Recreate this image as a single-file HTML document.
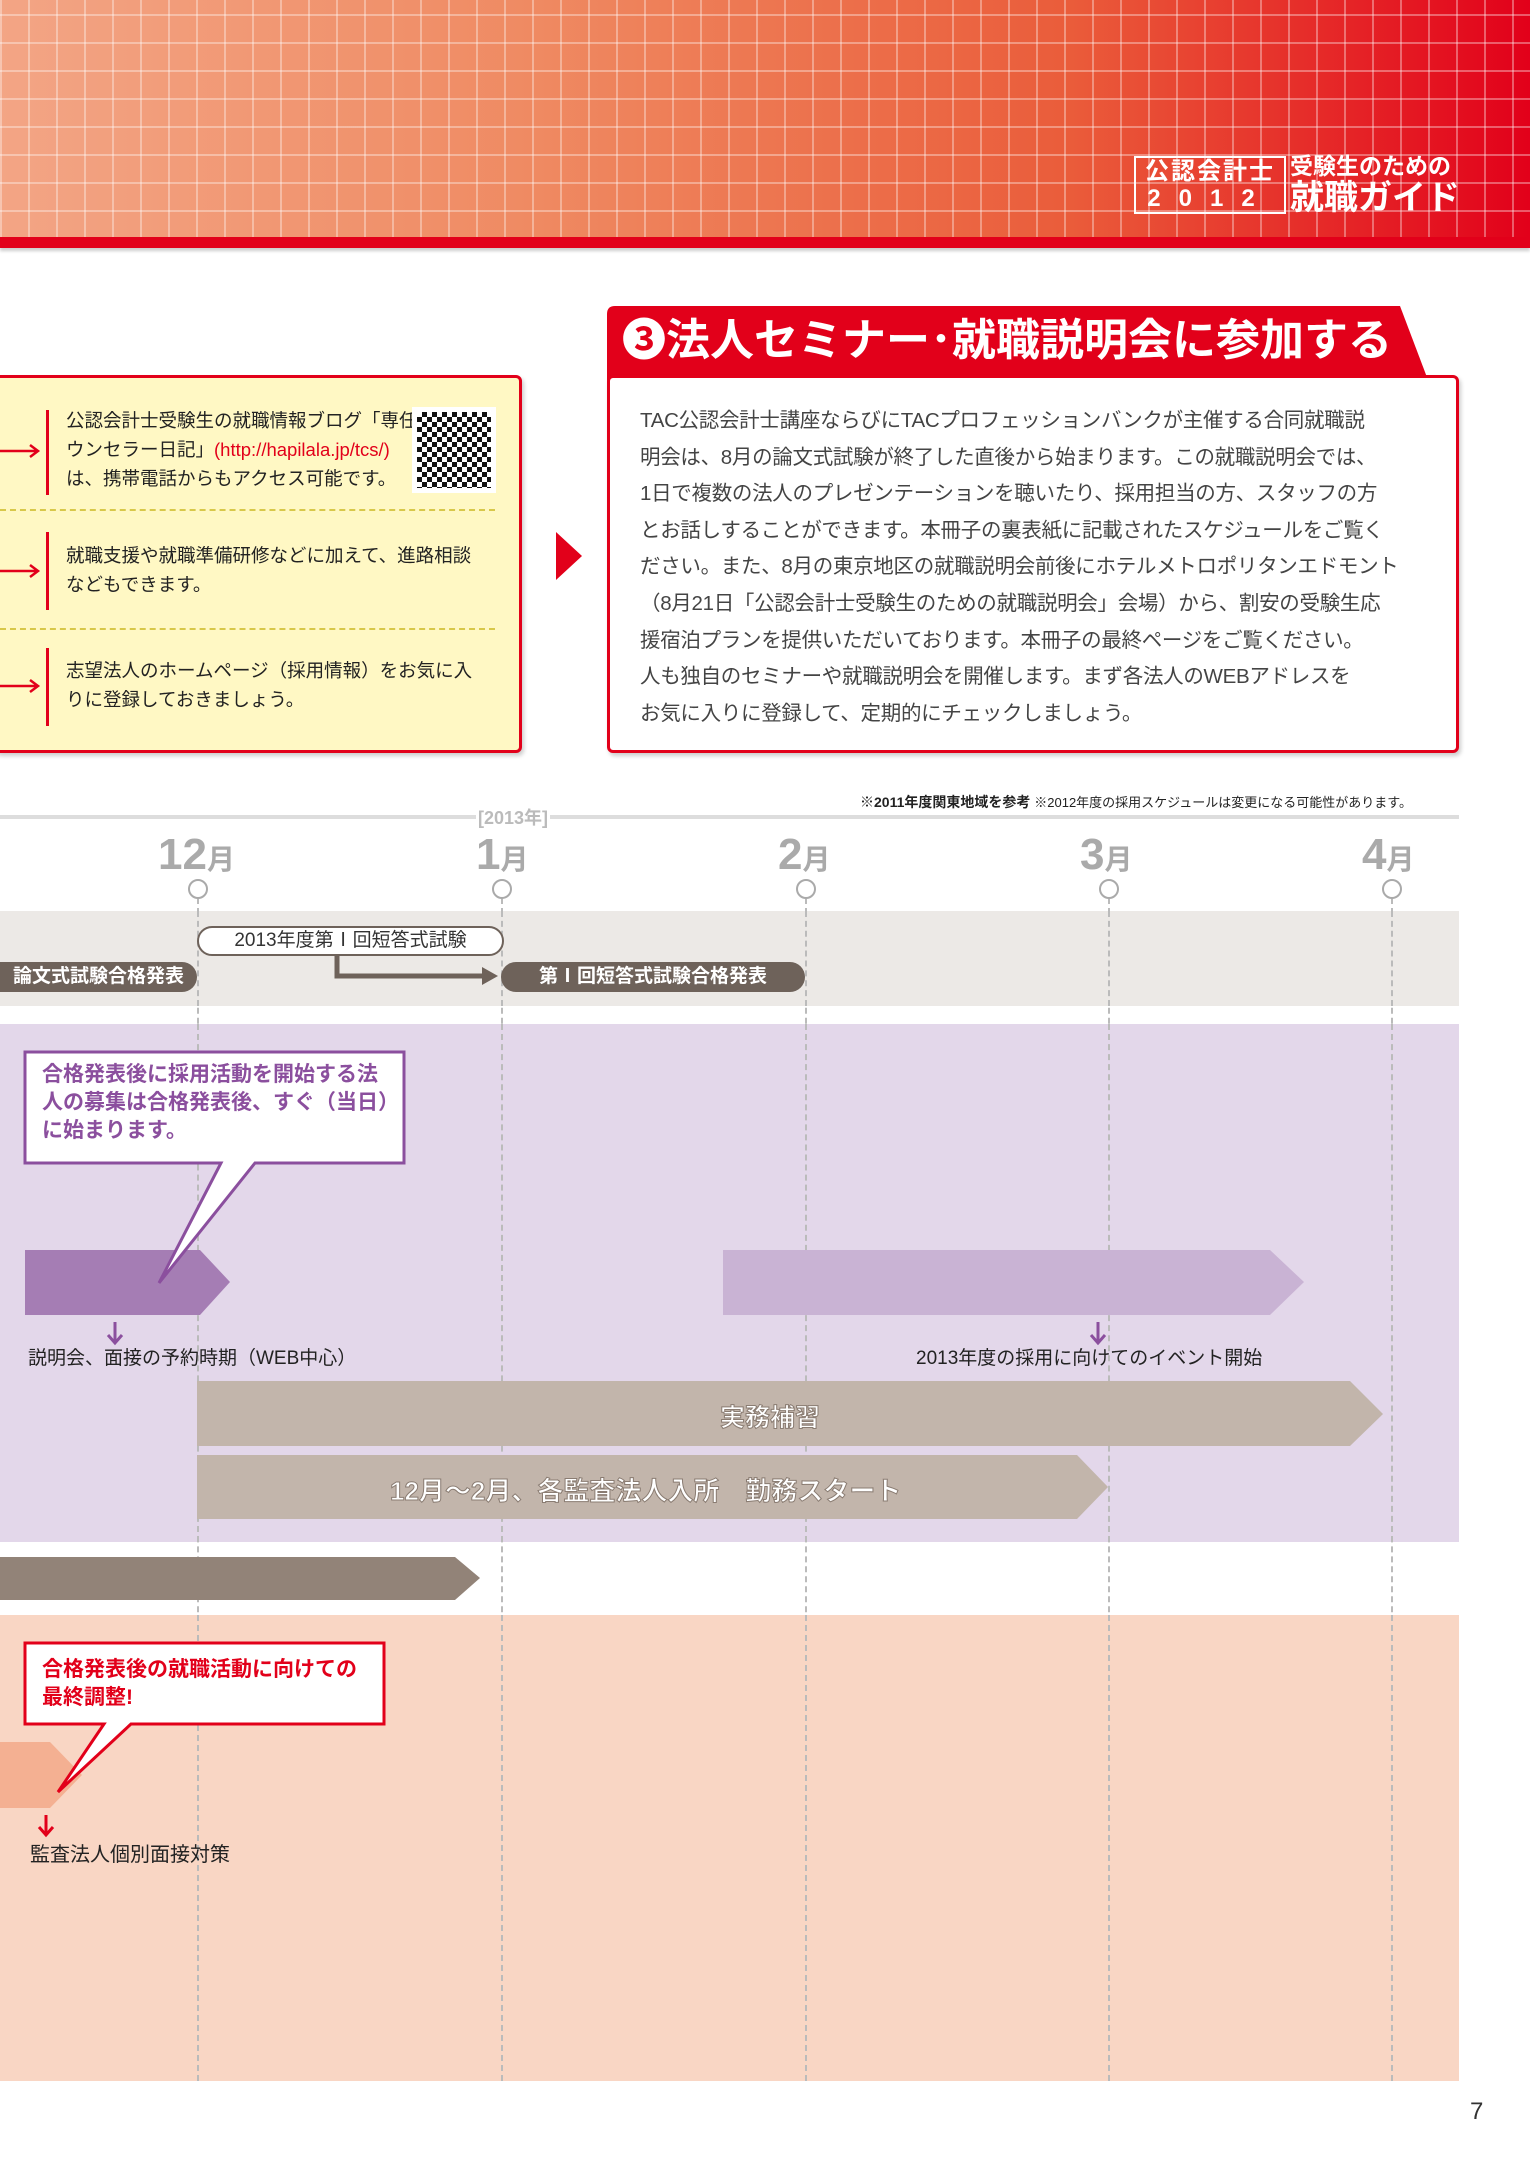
<!DOCTYPE html>
<html><head><meta charset="utf-8">
<style>
*{margin:0;padding:0;box-sizing:border-box}
body{width:1530px;height:2163px;position:relative;background:#fff;font-family:"Liberation Sans","Noto Sans CJK JP",sans-serif;overflow:hidden;color:#333}
.a{position:absolute}
.hdr{left:0;top:0;width:1530px;height:240px;background:linear-gradient(90deg,#f3a585 0%,#ef8a62 35%,#ea5c3a 70%,#e2001a 100%)}
.grid{left:0;top:0;width:1530px;height:240px;background-image:repeating-linear-gradient(90deg,rgba(255,255,255,.35) 0 2px,transparent 2px 28px),repeating-linear-gradient(0deg,rgba(255,255,255,.35) 0 2px,transparent 2px 28px)}
.stripe{left:0;top:237px;width:1530px;height:11px;background:#e2001a;box-shadow:0 3px 3px rgba(0,0,0,.2)}
.vl{border-left:2px dashed #bbb;top:898px;height:1183px}
.mon{font-weight:bold;color:#aaa;font-size:44px;top:830px}
.mon span{font-size:28px}
.circ{width:20px;height:20px;border:2px solid #aaa;border-radius:50%;background:#fff;top:879px}
.pill{height:30px;border-radius:15px;font-size:19px;line-height:30px;text-align:center}
.txt{font-size:20.5px;line-height:36.6px;color:#444;letter-spacing:-0.3px}
.yl{font-size:18.5px;line-height:29px;color:#222}
</style></head><body>
<div class="a hdr"></div><div class="a grid"></div><div class="a stripe"></div>
<div class="a" style="left:1134px;top:156px;width:152px;height:58px;border:2px solid #fff;color:#fff;font-weight:bold;font-size:24px;line-height:27px;text-align:center;letter-spacing:2px">公認会計士<br><span style="letter-spacing:18px">2012</span></div>
<div class="a" style="left:1290px;top:152px;color:#fff;font-weight:bold;font-size:23px;line-height:28px">受験生のための<br><span style="font-size:34px;line-height:36px">就職ガイド</span></div>

<svg class="a" style="left:600px;top:300px" width="870" height="80"><path d="M7 80 L7 14 Q7 6 15 6 L800 6 L828 80 Z" fill="#e2001a"/></svg>
<div class="a" style="left:622px;top:310px;color:#fff;font-weight:bold;font-size:44px;line-height:62px;white-space:nowrap">❸法人セミナー･就職説明会に参加する</div>
<div class="a" style="left:607px;top:375px;width:852px;height:378px;border:3px solid #e2001a;border-radius:6px;background:#fff;box-shadow:2px 3px 4px rgba(0,0,0,.2)"></div>
<div class="a txt" style="left:640px;top:403px;width:800px;white-space:nowrap">TAC公認会計士講座ならびにTACプロフェッションバンクが主催する合同就職説<br>明会は、8月の論文式試験が終了した直後から始まります。この就職説明会では、<br>1日で複数の法人のプレゼンテーションを聴いたり、採用担当の方、スタッフの方<br>とお話しすることができます。本冊子の裏表紙に記載されたスケジュールをご覧く<br>ださい。また、8月の東京地区の就職説明会前後にホテルメトロポリタンエドモント<br>（8月21日「公認会計士受験生のための就職説明会」会場）から、割安の受験生応<br>援宿泊プランを提供いただいております。本冊子の最終ページをご覧ください。<br>人も独自のセミナーや就職説明会を開催します。まず各法人のWEBアドレスを<br>お気に入りに登録して、定期的にチェックしましょう。</div>

<div class="a" style="left:-6px;top:375px;width:528px;height:378px;border:3px solid #e2001a;border-radius:6px;background:#fff8c4;box-shadow:2px 3px 4px rgba(0,0,0,.2)"></div>
<div class="a" style="left:0;top:509px;width:495px;border-top:2px dashed #d8c84a"></div>
<div class="a" style="left:0;top:628px;width:495px;border-top:2px dashed #d8c84a"></div>
<div class="a" style="left:46px;top:410px;width:3px;height:85px;background:#e2001a"></div>
<div class="a" style="left:46px;top:532px;width:3px;height:78px;background:#e2001a"></div>
<div class="a" style="left:46px;top:648px;width:3px;height:78px;background:#e2001a"></div>
<svg class="a" style="left:0;top:440px" width="50" height="260">
<path d="M0 11 L36 11 M30 5 L38 11 L30 17" stroke="#e2001a" stroke-width="2.5" fill="none"/>
<path d="M0 131 L36 131 M30 125 L38 131 L30 137" stroke="#e2001a" stroke-width="2.5" fill="none"/>
<path d="M0 246 L36 246 M30 240 L38 246 L30 252" stroke="#e2001a" stroke-width="2.5" fill="none"/>
</svg>
<div class="a yl" style="left:66px;top:406px;white-space:nowrap">公認会計士受験生の就職情報ブログ「専任カ<br>ウンセラー日記」<span style="color:#e2001a">(http://hapilala.jp/tcs/)</span><br>は、携帯電話からもアクセス可能です。</div>
<div class="a" style="left:412px;top:407px;width:84px;height:86px;background:#fff;padding:5px">
<div style="width:74px;height:76px;background:repeating-conic-gradient(#111 0 25%,#fff 0 50%) 0 0/10px 10px"></div></div>
<div class="a yl" style="left:66px;top:541px;white-space:nowrap">就職支援や就職準備研修などに加えて、進路相談<br>などもできます。</div>
<div class="a yl" style="left:66px;top:656px;white-space:nowrap">志望法人のホームページ（採用情報）をお気に入<br>りに登録しておきましょう。</div>
<svg class="a" style="left:554px;top:530px" width="30" height="52"><path d="M2 2 L28 26 L2 50Z" fill="#e2001a"/></svg>

<div class="a" style="left:860px;top:792px;font-size:14px;color:#222;white-space:nowrap"><b>※2011年度関東地域を参考</b> <span style="font-size:13px">※2012年度の採用スケジュールは変更になる可能性があります。</span></div>
<div class="a" style="left:0;top:815px;width:1459px;height:4px;background:#ddd"></div>
<div class="a" style="left:476px;top:804px;background:#fff;color:#bbb;font-weight:bold;font-size:18px;padding:0 2px">[2013年]</div>

<div class="a vl" style="left:197px"></div><div class="a vl" style="left:501px"></div><div class="a vl" style="left:805px"></div><div class="a vl" style="left:1108px"></div><div class="a vl" style="left:1391px"></div>

<div class="a" style="left:0;top:911px;width:1459px;height:95px;background:#ece9e6"></div>
<div class="a vl" style="left:197px;top:911px;height:95px"></div><div class="a vl" style="left:501px;top:911px;height:95px"></div><div class="a vl" style="left:805px;top:911px;height:95px"></div><div class="a vl" style="left:1108px;top:911px;height:95px"></div><div class="a vl" style="left:1391px;top:911px;height:95px"></div>

<div class="a mon" style="left:158px">12<span>月</span></div>
<div class="a mon" style="left:476px">1<span>月</span></div>
<div class="a mon" style="left:778px">2<span>月</span></div>
<div class="a mon" style="left:1080px">3<span>月</span></div>
<div class="a mon" style="left:1362px">4<span>月</span></div>
<div class="a circ" style="left:188px"></div><div class="a circ" style="left:492px"></div><div class="a circ" style="left:796px"></div><div class="a circ" style="left:1099px"></div><div class="a circ" style="left:1382px"></div>

<div class="a pill" style="left:197px;top:926px;width:307px;background:#fff;border:2px solid #6e625a;color:#333;line-height:26px">2013年度第Ⅰ回短答式試験</div>
<div class="a pill" style="left:-20px;top:962px;width:217px;background:#6e625a;color:#fff;font-weight:bold;padding-left:20px">論文式試験合格発表</div>
<div class="a pill" style="left:501px;top:962px;width:304px;background:#6e625a;color:#fff;font-weight:bold">第Ⅰ回短答式試験合格発表</div>
<svg class="a" style="left:330px;top:955px" width="180" height="35"><path d="M7 0 L7 21 L155 21" stroke="#6e625a" stroke-width="5" fill="none"/><path d="M152 12 L168 21 L152 30Z" fill="#6e625a"/></svg>

<div class="a" style="left:0;top:1024px;width:1459px;height:518px;background:#e3d7ea"></div>
<div class="a vl" style="left:197px;top:1024px;height:518px"></div><div class="a vl" style="left:501px;top:1024px;height:518px"></div><div class="a vl" style="left:805px;top:1024px;height:518px"></div><div class="a vl" style="left:1108px;top:1024px;height:518px"></div><div class="a vl" style="left:1391px;top:1024px;height:518px"></div>
<svg class="a" style="left:0;top:1024px" width="1459" height="518">
<path d="M25 226 L200 226 L230 258 L200 291 L25 291Z" fill="#a57db4"/>
<path d="M723 226 L1270 226 L1304 258 L1270 291 L723 291Z" fill="#c9b3d4"/>
<path d="M197 357 L1350 357 L1383 390 L1350 422 L197 422Z" fill="#c2b5ab"/>
<path d="M197 431 L1077 431 L1108 463 L1077 495 L197 495Z" fill="#c2b5ab"/>
<path d="M115 298 L115 318 M108 311 L115 319 L122 311" stroke="#8b4f9e" stroke-width="3" fill="none"/>
<path d="M1098 298 L1098 318 M1091 311 L1098 319 L1105 311" stroke="#8b4f9e" stroke-width="3" fill="none"/>
<path d="M25 28 L404 28 L404 139 L255 139 L159 259 L221 139 L25 139Z" fill="#fff" stroke="#8b4f9e" stroke-width="3"/>
</svg>
<div class="a" style="left:42px;top:1061px;font-size:21px;line-height:28px;color:#8b4f9e;font-weight:bold;white-space:nowrap">合格発表後に採用活動を開始する法<br>人の募集は合格発表後、すぐ（当日）<br>に始まります。</div>
<div class="a" style="left:28px;top:1343px;font-size:19px;color:#222;white-space:nowrap">説明会、面接の予約時期（WEB中心）</div>
<div class="a" style="left:916px;top:1343px;font-size:19px;color:#222;white-space:nowrap">2013年度の採用に向けてのイベント開始</div>
<div class="a" style="left:720px;top:1398px;font-size:25px;color:#fff;font-weight:bold;-webkit-text-stroke:1px #8a7c72">実務補習</div>
<div class="a" style="left:390px;top:1471px;font-size:26px;color:#fff;font-weight:bold;-webkit-text-stroke:1px #8a7c72;white-space:nowrap">12月～2月、各監査法人入所　勤務スタート</div>

<svg class="a" style="left:0;top:1557px" width="490" height="45"><path d="M0 0 L455 0 L480 21 L455 43 L0 43Z" fill="#928378"/></svg>

<div class="a" style="left:0;top:1615px;width:1459px;height:466px;background:#f9d6c4"></div>
<div class="a vl" style="left:197px;top:1615px;height:466px"></div><div class="a vl" style="left:501px;top:1615px;height:466px"></div><div class="a vl" style="left:805px;top:1615px;height:466px"></div><div class="a vl" style="left:1108px;top:1615px;height:466px"></div><div class="a vl" style="left:1391px;top:1615px;height:466px"></div>
<svg class="a" style="left:0;top:1615px" width="420" height="240">
<path d="M0 127 L50 127 L82 160 L50 193 L0 193Z" fill="#f4b092"/>
<path d="M46 200 L46 220 M39 212 L46 220 L53 212" stroke="#e2001a" stroke-width="3" fill="none"/>
<path d="M25 28 L384 28 L384 109 L131 109 L58 177 L104 109 L25 109Z" fill="#fff" stroke="#e2001a" stroke-width="3"/>
</svg>
<div class="a" style="left:42px;top:1656px;font-size:21px;line-height:28px;color:#e2001a;font-weight:bold;white-space:nowrap">合格発表後の就職活動に向けての<br>最終調整!</div>
<div class="a" style="left:30px;top:1838px;font-size:20px;color:#222;white-space:nowrap">監査法人個別面接対策</div>

<div class="a" style="left:1470px;top:2098px;font-size:24px;color:#333">7</div>
</body></html>
